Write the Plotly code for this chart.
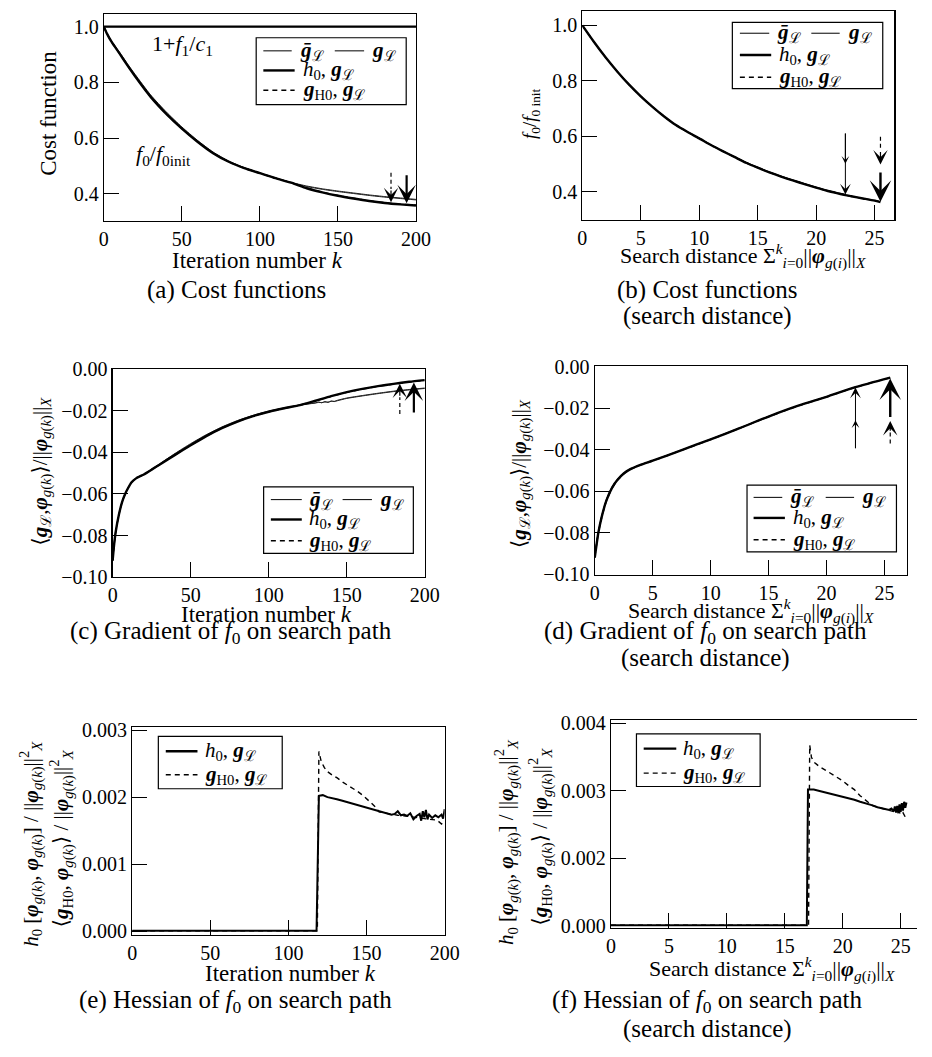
import plotly.graph_objects as go

# ---------------- DATA ----------------
# (a) cost functions vs iteration number
K_F1 = [0, 200]
F1_ALL = [1.0, 1.0]
K_A = [0, 2, 5, 10, 15, 20, 30, 40, 50, 60, 70, 80, 90, 100, 110, 120, 130, 140, 150, 160, 170, 180, 190, 200]
A_GBAR = [1.000, 0.976, 0.948, 0.909, 0.868, 0.829, 0.755, 0.694, 0.640, 0.592, 0.550, 0.518, 0.494, 0.475, 0.457, 0.441, 0.428, 0.418, 0.410, 0.403, 0.396, 0.390, 0.385, 0.380]
A_GL = [1.000, 0.975, 0.946, 0.906, 0.865, 0.825, 0.751, 0.690, 0.637, 0.589, 0.548, 0.516, 0.493, 0.474, 0.456, 0.440, 0.426, 0.416, 0.408, 0.401, 0.394, 0.388, 0.383, 0.378]
A_H0 = [1.000, 0.975, 0.945, 0.904, 0.862, 0.822, 0.748, 0.687, 0.634, 0.587, 0.546, 0.515, 0.492, 0.474, 0.456, 0.440, 0.420, 0.405, 0.393, 0.383, 0.374, 0.367, 0.362, 0.358]
A_GH0 = [1.000, 0.975, 0.945, 0.904, 0.862, 0.822, 0.748, 0.687, 0.634, 0.587, 0.546, 0.515, 0.492, 0.474, 0.456, 0.440, 0.421, 0.406, 0.394, 0.384, 0.375, 0.368, 0.363, 0.359]

# (b) cost function vs search distance
D_B = [0, 1, 2, 3, 4, 5, 6, 7, 8, 9, 10, 11, 12, 13, 14, 15, 16, 17, 18, 19, 20, 21, 22, 22.5, 23, 24, 25, 25.5]
B_H0 = [1.000, 0.940, 0.884, 0.833, 0.786, 0.744, 0.706, 0.671, 0.640, 0.615, 0.592, 0.568, 0.546, 0.525, 0.504, 0.486, 0.469, 0.454, 0.440, 0.427, 0.414, 0.402, 0.392, 0.387, 0.383, 0.375, 0.367, 0.362]
B_GH0 = [1.000, 0.940, 0.884, 0.833, 0.786, 0.744, 0.706, 0.671, 0.640, 0.615, 0.592, 0.568, 0.546, 0.525, 0.504, 0.486, 0.469, 0.454, 0.440, 0.427, 0.414, 0.402, 0.392, 0.387, 0.383, 0.375, 0.368, 0.363]
D_BT = [0, 1, 2, 3, 4, 5, 6, 7, 8, 9, 10, 11, 12, 13, 14, 15, 16, 17, 18, 19, 20, 21, 22, 22.5]
B_GBAR = [1.000, 0.941, 0.885, 0.834, 0.787, 0.745, 0.707, 0.672, 0.641, 0.616, 0.593, 0.569, 0.547, 0.526, 0.506, 0.488, 0.471, 0.456, 0.442, 0.429, 0.416, 0.404, 0.394, 0.389]
B_GL = [1.000, 0.940, 0.884, 0.833, 0.786, 0.744, 0.706, 0.671, 0.640, 0.615, 0.592, 0.568, 0.546, 0.525, 0.505, 0.487, 0.470, 0.455, 0.441, 0.428, 0.415, 0.403, 0.393, 0.388]

# (c) gradient vs iteration number
K_C = [0, 1, 2, 4, 6, 8, 10, 12, 15, 20, 25, 30, 40, 50, 60, 70, 80, 90, 100, 110, 120, 130, 140, 150, 160, 170, 180, 190, 200]
C_H0 = [-0.092, -0.084, -0.078, -0.070, -0.064, -0.0600, -0.0570, -0.0545, -0.0525, -0.0506, -0.0483, -0.0459, -0.0412, -0.0366, -0.0322, -0.0284, -0.0252, -0.0226, -0.0205, -0.0188, -0.0173, -0.0152, -0.0130, -0.0111, -0.0095, -0.0082, -0.0071, -0.0061, -0.0053]
C_GH0 = [-0.092, -0.084, -0.078, -0.070, -0.064, -0.0600, -0.0570, -0.0545, -0.0525, -0.0506, -0.0483, -0.0459, -0.0412, -0.0366, -0.0322, -0.0284, -0.0252, -0.0226, -0.0205, -0.0188, -0.0173, -0.0153, -0.0131, -0.0112, -0.0096, -0.0083, -0.0072, -0.0062, -0.0054]
K_CT = [0, 1, 2, 4, 6, 8, 10, 12, 15, 20, 25, 30, 40, 50, 60, 70, 80, 90, 100, 110, 120, 125, 130, 132, 134, 136, 138, 140, 142, 144, 150, 160, 170, 180, 190, 200]
C_GBAR = [-0.092, -0.084, -0.078, -0.070, -0.064, -0.0600, -0.0570, -0.0545, -0.0525, -0.0505, -0.0481, -0.0456, -0.0405, -0.0358, -0.0315, -0.0278, -0.0247, -0.0222, -0.0202, -0.0186, -0.0172, -0.0167, -0.0162, -0.0158, -0.0162, -0.0156, -0.0160, -0.0153, -0.0156, -0.0150, -0.0139, -0.0127, -0.0116, -0.0106, -0.0098, -0.0091]
C_GL = [-0.092, -0.084, -0.078, -0.070, -0.064, -0.0600, -0.0570, -0.0545, -0.0525, -0.0506, -0.0482, -0.0458, -0.0408, -0.0362, -0.0318, -0.0281, -0.0250, -0.0224, -0.0204, -0.0187, -0.0173, -0.0168, -0.0163, -0.0160, -0.0161, -0.0158, -0.0159, -0.0155, -0.0155, -0.0152, -0.0141, -0.0129, -0.0118, -0.0108, -0.0100, -0.0093]

# (d) gradient vs search distance
D_D = [0, 0.15, 0.3, 0.6, 1.0, 1.5, 2.0, 2.5, 3.0, 4.0, 5.0, 7.5, 10.0, 12.5, 15.0, 17.5, 20.0, 22.5, 25.5]
D_H0 = [-0.092, -0.086, -0.0803, -0.0724, -0.0646, -0.0583, -0.0543, -0.0515, -0.0496, -0.0472, -0.0453, -0.0402, -0.0350, -0.0296, -0.0240, -0.0189, -0.0145, -0.0098, -0.0052]
D_GH0 = [-0.092, -0.086, -0.0805, -0.0727, -0.0649, -0.0586, -0.0545, -0.0517, -0.0497, -0.0473, -0.0454, -0.0403, -0.0351, -0.0297, -0.0241, -0.0190, -0.0146, -0.0099, -0.0053]
D_DT = [0, 0.15, 0.3, 0.6, 1.0, 1.5, 2.0, 2.5, 3.0, 4.0, 5.0, 7.5, 10.0, 12.5, 15.0, 17.5, 20.0, 22.5]
D_GBAR = [-0.092, -0.085, -0.0798, -0.0718, -0.0640, -0.0578, -0.0539, -0.0512, -0.0494, -0.0471, -0.0452, -0.0401, -0.0349, -0.0295, -0.0239, -0.0188, -0.0144, -0.0097]
D_GL = [-0.092, -0.0855, -0.0800, -0.0721, -0.0643, -0.0581, -0.0541, -0.0514, -0.0495, -0.0472, -0.0453, -0.0402, -0.0350, -0.0296, -0.0240, -0.0189, -0.0145, -0.0098]

# (e) Hessian vs iteration number
K_E_H0 = [0, 118, 119.5, 122, 125, 128, 131, 134, 137, 140, 143, 146, 149, 152, 155, 158, 161, 164, 166, 168, 170, 172, 174, 176, 178, 180, 182, 184, 185, 186, 187, 188, 189, 190, 192, 194, 196, 198, 199, 200]
E_H0 = [0.00001, 0.00001, 0.00202, 0.00203, 0.00200, 0.00199, 0.00197, 0.00195, 0.00193, 0.00191, 0.00189, 0.00187, 0.00185, 0.00184, 0.00182, 0.00179, 0.00177, 0.00176, 0.00174, 0.00175, 0.00179, 0.00173, 0.00174, 0.00172, 0.00176, 0.00167, 0.00172, 0.00175, 0.00165, 0.00179, 0.00170, 0.00181, 0.00167, 0.00174, 0.00169, 0.00173, 0.00170, 0.00174, 0.00168, 0.00182]
K_E_GH0 = [0, 118.5, 119.5, 121, 123, 125, 128, 131, 135, 140, 144, 148, 152, 155, 158, 162, 166, 170, 175, 180, 185, 190, 195, 198, 200]
E_GH0 = [0.00001, 0.00001, 0.00268, 0.00253, 0.00244, 0.00238, 0.00233, 0.00229, 0.00222, 0.00215, 0.00209, 0.00202, 0.00194, 0.00187, 0.00178, 0.00176, 0.00174, 0.00173, 0.00172, 0.00170, 0.00168, 0.00167, 0.00166, 0.00160, 0.00165]

# (f) Hessian vs search distance
D_F_H0 = [0, 16.9, 17.0, 17.5, 18.0, 18.5, 19.0, 19.5, 20.0, 20.5, 21.0, 21.5, 22.0, 22.5, 23.0, 23.5, 24.0, 24.2, 24.4, 24.5, 24.6, 24.7, 24.8, 24.9, 25.0, 25.1, 25.2, 25.3, 25.4, 25.5]
F_H0 = [0.00001, 0.00001, 0.00202, 0.00202, 0.00200, 0.00198, 0.00196, 0.00194, 0.00192, 0.00189, 0.00187, 0.00184, 0.00182, 0.00179, 0.00176, 0.00174, 0.00172, 0.00174, 0.00170, 0.00177, 0.00168, 0.00178, 0.00167, 0.00180, 0.00169, 0.00182, 0.00171, 0.00184, 0.00175, 0.00183]
D_F_GH0 = [0, 17.05, 17.15, 17.3, 17.5, 18.0, 18.5, 19.0, 19.5, 20.0, 20.5, 21.0, 21.5, 22.0, 22.5, 23.0, 23.5, 24.0, 24.5, 24.8, 25.0, 25.2, 25.4, 25.5]
F_GH0 = [0.00001, 0.00001, 0.00268, 0.00250, 0.00243, 0.00236, 0.00231, 0.00226, 0.00220, 0.00215, 0.00208, 0.00202, 0.00193, 0.00186, 0.00179, 0.00176, 0.00174, 0.00172, 0.00169, 0.00172, 0.00165, 0.00168, 0.00160, 0.00158]

# arrow markers: (x, tip value, tail value)
ARR_A_THICK = (194, 0.366, 0.472)
ARR_A_DASH = (184, 0.370, 0.476)
ARR_B_THIN = (22.5, 0.389, 0.615)
ARR_B_THIN2 = (22.5, 0.500, 0.615)
ARR_B_THICK = (25.5, 0.363, 0.474)
ARR_B_DASH = (25.5, 0.498, 0.598)
ARR_C_THICK = (193, -0.0065, -0.0216)
ARR_C_DASH = (184, -0.0070, -0.0216)
ARR_D_THIN = (22.5, -0.0100, -0.040)
ARR_D_THIN2 = (22.5, -0.0258, -0.040)
ARR_D_THICK = (25.5, -0.0056, -0.025)
ARR_D_DASH = (25.5, -0.0262, -0.037)

# ---------------- FIGURE ----------------
W, H = 932, 1057
FONT = "Liberation Serif, Times New Roman, DejaVu Serif, serif"
BLK = "black"
THIN = dict(color="#222222", width=1.0, shape="spline", smoothing=0.6)
THICK = dict(color=BLK, width=2.4, shape="spline", smoothing=0.6)
DASH = dict(color=BLK, width=1.4, dash="5px,4px", shape="spline", smoothing=0.6)
HES_SOLID = dict(color=BLK, width=2.0)
HES_DASH = dict(color=BLK, width=1.4, dash="5px,4px")


def px(x):
    return x / W


def py(y):
    return 1 - y / H


fig = go.Figure()


def add(x, y, ax, line):
    fig.add_trace(go.Scatter(x=x, y=y, xaxis="x" + ax, yaxis="y" + ax, mode="lines",
                             line=line, showlegend=False, hoverinfo="skip"))


# panel a
add(K_F1, F1_ALL, "", THIN)
add(K_F1, F1_ALL, "", THICK)
add(K_A, A_GBAR, "", THIN)
add(K_A, A_GL, "", THIN)
add(K_A, A_GH0, "", DASH)
add(K_A, A_H0, "", THICK)
# panel b
add(D_BT, B_GBAR, "2", THIN)
add(D_BT, B_GL, "2", THIN)
add(D_B, B_GH0, "2", DASH)
add(D_B, B_H0, "2", THICK)
# panel c
add(K_CT, C_GBAR, "3", THIN)
add(K_CT, C_GL, "3", THIN)
add(K_C, C_GH0, "3", DASH)
add(K_C, C_H0, "3", THICK)
# panel d
add(D_DT, D_GBAR, "4", THIN)
add(D_DT, D_GL, "4", THIN)
add(D_D, D_GH0, "4", DASH)
add(D_D, D_H0, "4", THICK)
# panel e
add(K_E_GH0, E_GH0, "5", HES_DASH)
add(K_E_H0, E_H0, "5", HES_SOLID)
# panel f
add(D_F_GH0, F_GH0, "6", HES_DASH)
add(D_F_H0, F_H0, "6", HES_SOLID)

tickfont = dict(family=FONT, size=20, color=BLK)


def axis(domain, rng, tickvals, fmt=None, ticktext=None, anchor=None, mirror=True):
    d = dict(domain=domain, range=rng, tickvals=tickvals, showline=True, mirror=mirror,
             linecolor=BLK, linewidth=1.2, ticks="inside", ticklen=15, tickwidth=1,
             tickcolor=BLK, showgrid=False, zeroline=False, tickfont=tickfont,
             anchor=anchor, fixedrange=True)
    if fmt:
        d["tickformat"] = fmt
    if ticktext:
        d["ticktext"] = ticktext
    return d


layout = dict(width=W, height=H, margin=dict(l=0, r=0, t=0, b=0),
              paper_bgcolor="white", plot_bgcolor="white", showlegend=False)

layout["xaxis"] = axis([px(101), px(420)], [0, 200], [0, 50, 100, 150, 200], anchor="y")
layout["yaxis"] = axis([py(214), py(3)], [0.304, 1.0457], [0.4, 0.6, 0.8, 1.0], ".1f", anchor="x")
layout["xaxis2"] = axis([px(590), px(909)], [0, 26.7], [0, 5, 10, 15, 20, 25], anchor="y2")
layout["yaxis2"] = axis([py(213), py(0.5)], [0.2987, 1.0505], [0.4, 0.6, 0.8, 1.0], ".1f", anchor="x2")
layout["xaxis3"] = axis([px(110), px(429)], [0, 200], [0, 50, 100, 150, 200], anchor="y3")
layout["yaxis3"] = axis([py(578.3), py(365.7)], [-0.10, 0.0], [-0.10, -0.08, -0.06, -0.04, -0.02, 0.0], ".2f", anchor="x3")
layout["xaxis4"] = axis([px(602.7), px(921.7)], [0, 26.94], [0, 5, 10, 15, 20, 25], anchor="y4")
layout["yaxis4"] = axis([py(575.7), py(362.7)], [-0.1003, 0.0003], [-0.10, -0.08, -0.06, -0.04, -0.02, 0.0], ".2f", anchor="x4")
layout["xaxis5"] = axis([px(130), px(449.3)], [0, 200], [0, 50, 100, 150, 200], anchor="y5")
layout["yaxis5"] = axis([py(943.3), py(731)], [-0.0000486, 0.0030486], [0, 0.001, 0.002, 0.003], ".3f", anchor="x5")
layout["xaxis6"] = axis([px(619.3), 1.0], [0, 26.41], [0, 5, 10, 15, 20, 25], anchor="y6")
layout["yaxis6"] = axis([py(936.7), py(724.3)], [-0.0000339, 0.0030484], [0, 0.001, 0.002, 0.003],
                        ticktext=["0.000", "0.002", "0.003", "0.004"], anchor="x6", mirror=False)
fig.update_layout(**layout)

ann = []
shapes = []


def text(x, y, s, size=22, angle=0, xanchor="center"):
    ann.append(dict(x=px(x), y=py(y), xref="paper", yref="paper", text=s, showarrow=False,
                    font=dict(family=FONT, size=size, color=BLK), textangle=angle,
                    xanchor=xanchor, yanchor="middle"))


gL = "<b><i>g</i></b><sub>ℒ</sub>"
gbar = "<b><i>ḡ</i></b><sub>ℒ</sub>"
h0 = "<i>h</i><sub>0</sub>"
gH0 = "<b><i>g</i></b><sub>H0</sub>"
phik = "<b><i>φ</i></b><sub><i>g</i>(<i>k</i>)</sub>"
phii = "<b><i>φ</i></b><sub><i>g</i>(<i>i</i>)</sub>"
NRM = "||"
iter_t = "Iteration number <i>k</i>"
dist_t = "Search distance Σ<sup><i>k</i></sup><sub><i>i</i>=0</sub>" + NRM + phii + NRM + "<sub><i>X</i></sub>"

# axis titles
text(258, 255, iter_t, 23)
text(754, 250, dist_t, 22)
text(267, 616.7, iter_t, 23)
text(762.7, 612.7, dist_t, 22)
text(292, 983, iter_t, 23)
text(784, 978, dist_t, 22)

text(45, 105, "Cost function", 23, -90)
text(537.7, 105, "<i>f</i><sub>0</sub>/<i>f</i><sub>0 init</sub>", 19, -90)
ytc = "⟨<b><i>g</i></b><sub>ℒ</sub>," + phik + "⟩/" + NRM + phik + NRM + "<sub><i>X</i></sub>"
text(37, 470, ytc, 21, -90)
text(526, 472, ytc, 21, -90)
ye1 = h0 + " [" + phik + ", " + phik + "] / " + NRM + phik + NRM + "<sup>2</sup><sub><i>X</i></sub>"
ye2 = "⟨" + gH0 + ", " + phik + "⟩ / " + NRM + phik + NRM + "<sup>2</sup><sub><i>X</i></sub>"
text(27, 850, ye1, 21, -90)
text(58, 845, ye2, 21, -90)
text(512.7, 849, ye1, 21, -90)
text(547.7, 843, ye2, 21, -90)

# in-plot labels
text(181, 35, "1+<i>f</i><sub>1</sub>/<i>c</i><sub>1</sub>", 22)
text(162, 147, "<i>f</i><sub>0</sub>/<i>f</i><sub>0init</sub>", 22)

# captions
text(237, 285, "(a) Cost functions", 25)
text(718, 285, "(b) Cost functions", 25)
text(718, 311, "(search distance)", 25)
text(231, 635, "(c) Gradient of <i>f</i><sub>0</sub> on search path", 25)
text(716, 635, "(d) Gradient of <i>f</i><sub>0</sub> on search path", 25)
text(716, 661, "(search distance)", 25)
text(236, 1012, "(e) Hessian of <i>f</i><sub>0</sub> on search path", 25)
text(718, 1012, "(f) Hessian of <i>f</i><sub>0</sub> on search path", 25)
text(718, 1040, "(search distance)", 25)


# legends
def lline(x0, x1, y, style):
    ln = dict(color=BLK, width=style["width"])
    if "dash" in style:
        ln["dash"] = style["dash"]
    shapes.append(dict(type="line", xref="paper", yref="paper", x0=px(x0), x1=px(x1),
                       y0=py(y), y1=py(y), line=ln))


def legend_box(x0, y0, x1, y1):
    shapes.append(dict(type="rect", xref="paper", yref="paper", x0=px(x0), x1=px(x1),
                       y0=py(y1), y1=py(y0), line=dict(color=BLK, width=1.2),
                       fillcolor="white", layer="above"))


def legend4(box, rows, l1, t1, l2, t2, lt):
    legend_box(*box)
    lline(l1[0], l1[1], rows[0], THIN)
    text(t1, rows[0], gbar, 21, xanchor="left")
    lline(l2[0], l2[1], rows[0], THIN)
    text(t2, rows[0], gL, 21, xanchor="left")
    lline(lt[0], lt[1], rows[1], THICK)
    text(lt[2], rows[1], h0 + ", " + gL, 21, xanchor="left")
    lline(lt[0], lt[1], rows[2], DASH)
    text(lt[2], rows[2], gH0 + ", " + gL, 21, xanchor="left")


legend4((256.7, 27.3, 410, 95.7), (40.7, 60.7, 81), (264, 293), 299, (337, 367), 373, (264, 296, 302))
legend4((743.3, 11.7, 897, 79.3), (22.7, 45, 67.7), (751, 781), 787, (824, 853), 859, (751, 783, 789))
legend4((264.3, 486, 417.3, 554), (499, 519.3, 541), (271.7, 303.3), 309, (345, 375), 381, (271.7, 303.3, 309))
legend4((758.3, 484.3, 911, 552.3), (496.7, 517.7, 540), (765, 794.3), 800, (838.7, 867.7), 874, (765, 797, 803))


def legend2(box, rows, lx):
    legend_box(*box)
    lline(lx[0], lx[1], rows[0], THICK)
    text(lx[2], rows[0], h0 + ", " + gL, 21, xanchor="left")
    lline(lx[0], lx[1], rows[1], DASH)
    text(lx[2], rows[1], gH0 + ", " + gL, 21, xanchor="left")


legend2((156.7, 740.7, 283.3, 794.3), (756, 780), (164.3, 196.7, 202))
legend2((645.3, 738.3, 771.7, 792), (753.3, 778.3), (652.7, 686, 691))


# arrows
def arrow(ax, spec, width, size, dashed=False, headlen=None):
    x, tip, tail = spec
    xa = "x" + ax
    ya = "y" + ax
    start = tail
    if dashed:
        mid = tip + (tail - tip) * headlen
        shapes.append(dict(type="line", xref=xa, yref=ya, x0=x, x1=x, y0=tail, y1=mid,
                           line=dict(color=BLK, width=width, dash="4px,3px")))
        start = mid
    ann.append(dict(x=x, y=tip, ax=x, ay=start, xref=xa, yref=ya, axref=xa, ayref=ya,
                    text="", showarrow=True, arrowhead=3, arrowsize=size, arrowwidth=width,
                    arrowcolor=BLK, standoff=0))


arrow("", ARR_A_DASH, 1.2, 2.0, True, 0.45)
arrow("", ARR_A_THICK, 2.2, 1.4)
arrow("2", ARR_B_THIN, 1.0, 1.8)
arrow("2", ARR_B_THIN2, 1.0, 1.3)
arrow("2", ARR_B_DASH, 1.2, 2.0, True, 0.5)
arrow("2", ARR_B_THICK, 2.4, 1.5)
arrow("3", ARR_C_DASH, 1.2, 2.0, True, 0.45)
arrow("3", ARR_C_THICK, 2.2, 1.4)
arrow("4", ARR_D_THIN, 1.0, 1.8)
arrow("4", ARR_D_THIN2, 1.0, 1.3)
arrow("4", ARR_D_DASH, 1.2, 2.0, True, 0.5)
arrow("4", ARR_D_THICK, 2.4, 1.5)

fig.update_layout(annotations=ann, shapes=shapes)
fig.write_html("out.html",
               config={"displayModeBar": False, "staticPlot": True},
               post_script="document.body.style.margin='0';document.body.style.padding='0';"
                           "document.body.style.overflow='hidden';"
                           "document.documentElement.style.overflow='hidden';")
